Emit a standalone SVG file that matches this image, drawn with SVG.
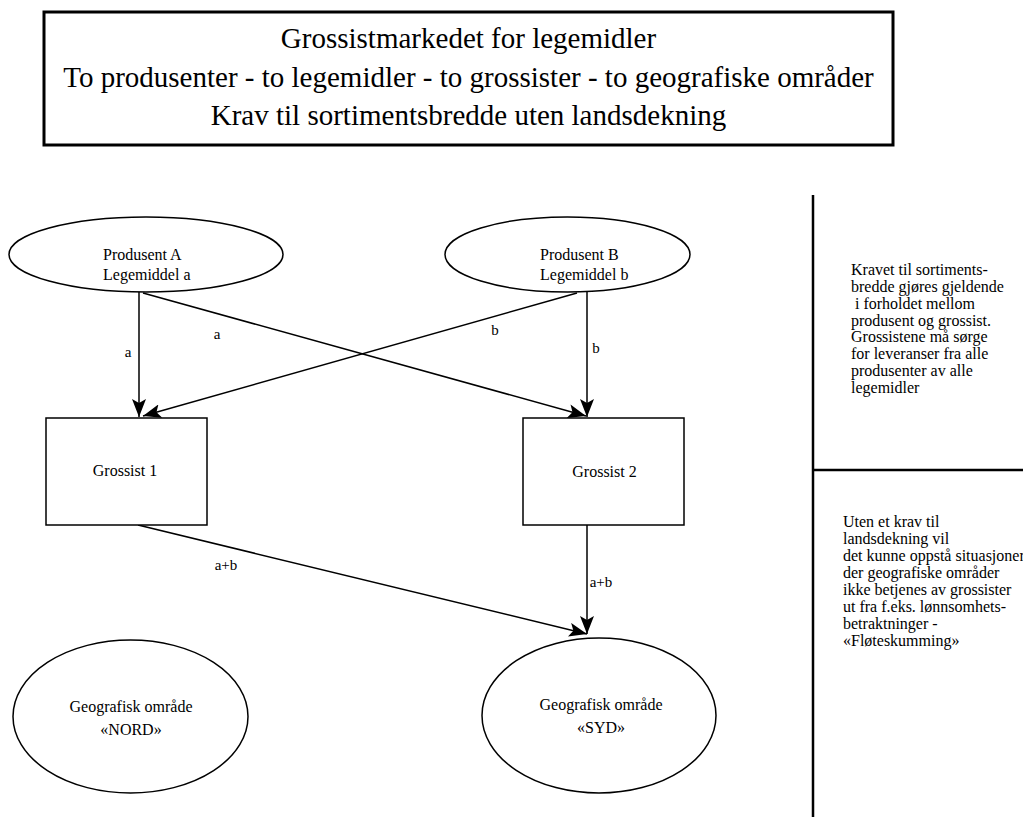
<svg xmlns="http://www.w3.org/2000/svg" width="1023" height="817" viewBox="0 0 1023 817">
<style>
  text { font-family: "Liberation Serif", "Times New Roman", serif; fill: #000; }
  .title { font-size: 29px; text-anchor: middle; }
  .node { fill: #fff; stroke: #000; stroke-width: 1.5; }
  .lbl { font-size: 16px; }
  .mid { text-anchor: middle; }
  .elbl { font-size: 15px; text-anchor: middle; }
  .edge { fill: none; stroke: #000; stroke-width: 1.5; marker-end: url(#arr); }
  .panel { font-size: 16px; }
  .div { stroke: #000; stroke-width: 2.5; fill: none; }
</style>
<defs>
  <marker id="arr" viewBox="0 0 18 14" markerWidth="18" markerHeight="14" refX="18" refY="7" orient="auto" markerUnits="userSpaceOnUse">
    <path d="M0,0 L18,7 L0,14 L4,7 z" fill="#000"/>
  </marker>
</defs>
<rect width="1023" height="817" fill="#fff"/>

<g id="title">
  <rect x="44" y="12" width="849" height="133" fill="#fff" stroke="#000" stroke-width="3"/>
  <text class="title" x="468.5" y="48">Grossistmarkedet for legemidler</text>
  <text class="title" x="468.5" y="87">To produsenter - to legemidler - to grossister - to geografiske områder</text>
  <text class="title" x="468.5" y="125">Krav til sortimentsbredde uten landsdekning</text>
</g>

<g id="connectors">
  <line class="edge" x1="139" y1="292" x2="139" y2="417"/>
  <line class="edge" x1="143" y1="293" x2="586" y2="416"/>
  <line class="edge" x1="577" y1="293" x2="143" y2="416"/>
  <line class="edge" x1="587" y1="292" x2="587" y2="417"/>
  <line class="edge" x1="138" y1="525" x2="587" y2="634"/>
  <line class="edge" x1="587" y1="525" x2="587" y2="634"/>
  <text class="elbl" x="128" y="357">a</text>
  <text class="elbl" x="217" y="339">a</text>
  <text class="elbl" x="495" y="335">b</text>
  <text class="elbl" x="596" y="353">b</text>
  <text class="elbl" x="226" y="570">a+b</text>
  <text class="elbl" x="601" y="587">a+b</text>
</g>

<g id="produsentA">
  <ellipse class="node" cx="146" cy="254.5" rx="137" ry="37.5"/>
  <text class="lbl" x="103" y="260">Produsent A</text>
  <text class="lbl" x="103" y="280">Legemiddel a</text>
</g>

<g id="produsentB">
  <ellipse class="node" cx="567.5" cy="254.5" rx="122.5" ry="37.5"/>
  <text class="lbl" x="540" y="260">Produsent B</text>
  <text class="lbl" x="540" y="280">Legemiddel b</text>
</g>

<g id="grossist1">
  <rect class="node" x="46" y="418" width="161" height="107"/>
  <text class="lbl mid" x="125" y="476">Grossist 1</text>
</g>

<g id="grossist2">
  <rect class="node" x="523" y="418" width="161" height="107"/>
  <text class="lbl mid" x="604.5" y="477">Grossist 2</text>
</g>

<g id="nord">
  <ellipse class="node" cx="130.5" cy="716.5" rx="117.5" ry="76.5"/>
  <text class="lbl mid" x="131" y="712">Geografisk område</text>
  <text class="lbl mid" x="131" y="735">«NORD»</text>
</g>

<g id="syd">
  <ellipse class="node" cx="599" cy="715.5" rx="117" ry="77.5"/>
  <text class="lbl mid" x="601" y="710">Geografisk område</text>
  <text class="lbl mid" x="601" y="733">«SYD»</text>
</g>

<g id="sidepanel">
  <line class="div" x1="813" y1="195" x2="813" y2="817"/>
  <line class="div" x1="813" y1="470" x2="1023" y2="470"/>
  <text class="panel">
    <tspan x="851" y="275">Kravet til sortiments-</tspan>
    <tspan x="851" y="292">bredde gjøres gjeldende</tspan>
    <tspan x="855" y="309">i forholdet mellom</tspan>
    <tspan x="851" y="326">produsent og grossist.</tspan>
    <tspan x="851" y="342">Grossistene må sørge</tspan>
    <tspan x="851" y="359">for leveranser fra alle</tspan>
    <tspan x="851" y="376">produsenter av alle</tspan>
    <tspan x="851" y="393">legemidler</tspan>
  </text>
  <text class="panel">
    <tspan x="843" y="527">Uten et krav til</tspan>
    <tspan x="843" y="544">landsdekning vil</tspan>
    <tspan x="843" y="561">det kunne oppstå situasjoner</tspan>
    <tspan x="843" y="578">der geografiske områder</tspan>
    <tspan x="843" y="595">ikke betjenes av grossister</tspan>
    <tspan x="843" y="612">ut fra f.eks. lønnsomhets-</tspan>
    <tspan x="843" y="629">betraktninger -</tspan>
    <tspan x="843" y="646">«Fløteskumming»</tspan>
  </text>
</g>
</svg>
